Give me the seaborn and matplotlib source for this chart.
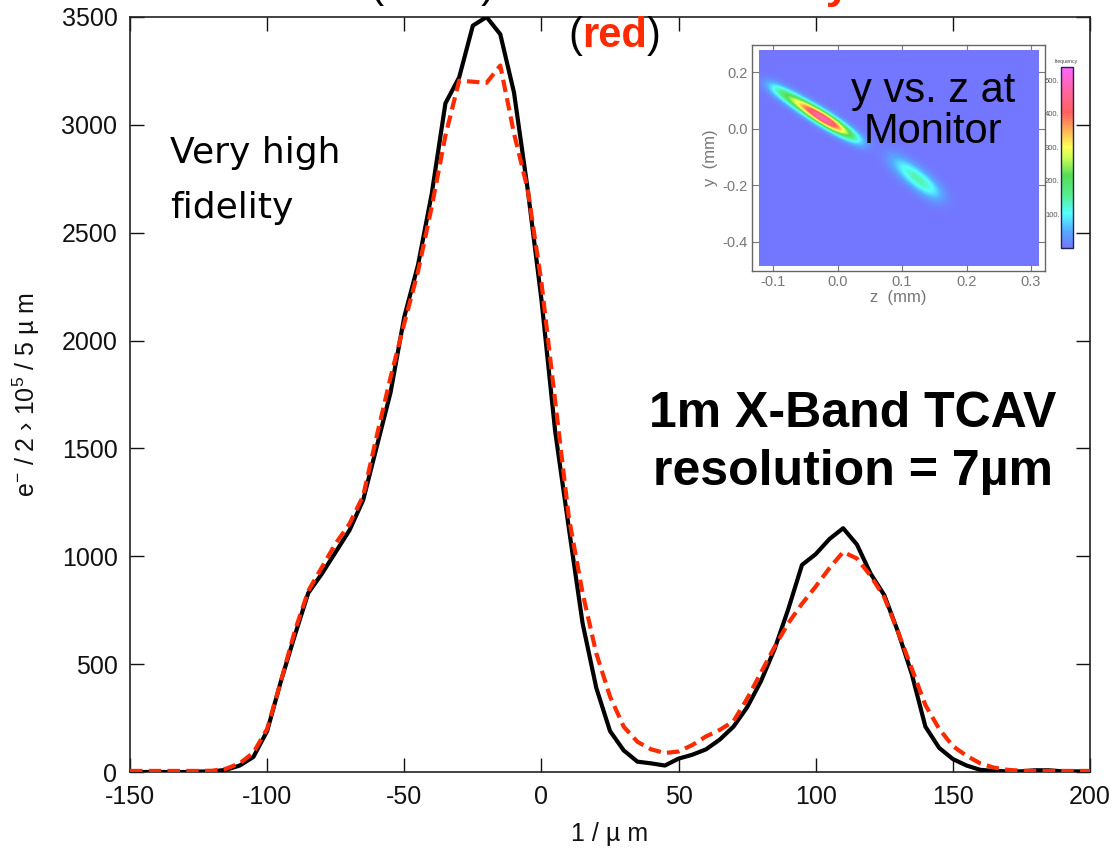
import numpy as np
import pandas as pd
import matplotlib
matplotlib.use("Agg")
import matplotlib.pyplot as plt
import seaborn as sns
from matplotlib.colors import LinearSegmentedColormap

# ---------------- data ----------------
position_um = [-150, -145, -140, -135, -130, -125, -120, -115, -110, -105,
               -100, -95, -90, -85, -80, -75, -70, -65, -60, -55,
               -50, -45, -40, -35, -30, -25, -20, -15, -10, -5,
               0, 5, 10, 15, 20, 25, 30, 35, 40, 45,
               50, 55, 60, 65, 70, 75, 80, 85, 90, 95,
               100, 105, 110, 115, 120, 125, 130, 135, 140, 145,
               150, 155, 160, 165, 170, 175, 180, 185, 190, 195, 200]

simulated = [0, 0, 0, 0, 0, 2, 3, 10, 30, 70,
             190, 420, 630, 830, 920, 1020, 1120, 1260, 1510, 1760,
             2110, 2350, 2680, 3100, 3220, 3460, 3500, 3420, 3150, 2700,
             2190, 1580, 1130, 690, 390, 190, 100, 48, 40, 30,
             62, 80, 105, 150, 210, 300, 420, 570, 755, 960,
             1010, 1080, 1130, 1055, 920, 820, 650, 455, 210, 112,
             60, 30, 10, 5, 3, 3, 8, 8, 3, 3, 2]

reconstructed = [5, 5, 5, 5, 5, 5, 6, 15, 40, 90,
                 200, 420, 650, 840, 950, 1060, 1150, 1280, 1560, 1830,
                 2080, 2320, 2620, 2950, 3205, 3200, 3195, 3275, 2960, 2700,
                 2270, 1720, 1180, 830, 550, 350, 210, 140, 105, 88,
                 95, 125, 165, 195, 235, 340, 460, 580, 690, 780,
                 860, 945, 1020, 990, 910, 810, 650, 480, 310, 200,
                 120, 75, 40, 20, 10, 6, 5, 5, 5, 5, 5]

x_ticks = [-150, -100, -50, 0, 50, 100, 150, 200]
y_ticks = [0, 500, 1000, 1500, 2000, 2500, 3000, 3500]

# inset: ridge samples of the two bunches in y vs z (mm) and their frequency level
bunch1_z = [-0.100, -0.088, -0.076, -0.064, -0.052, -0.040, -0.028, -0.016, -0.004, 0.008, 0.020, 0.032]
bunch1_y = [0.147, 0.130, 0.113, 0.096, 0.079, 0.062, 0.045, 0.028, 0.011, -0.006, -0.023, -0.040]
bunch1_level = [120, 170, 230, 290, 370, 460, 515, 520, 420, 300, 190, 110]
bunch2_z = [0.085, 0.097, 0.109, 0.121, 0.133, 0.145, 0.155]
bunch2_y = [-0.106, -0.128, -0.150, -0.172, -0.194, -0.216, -0.234]
bunch2_level = [45, 90, 135, 160, 155, 115, 55]
inset_x_ticks = [-0.1, 0.0, 0.1, 0.2, 0.3]
inset_x_labels = ["-0.1", "0.0", "0.1", "0.2", "0.3"]
inset_y_ticks = [0.2, 0.0, -0.2, -0.4]
inset_y_labels = ["0.2", "0.0", "-0.2", "-0.4"]
cbar_ticks = [100, 200, 300, 400, 500]
cbar_labels = ["100.", "200.", "300.", "400.", "500."]

# ---------------- style ----------------
sns.set_theme(style="ticks")
plt.rcParams["font.family"] = ["Liberation Sans", "DejaVu Sans"]
plt.rcParams["mathtext.fontset"] = "custom"
plt.rcParams["mathtext.rm"] = "Liberation Sans"
plt.rcParams["mathtext.it"] = "Liberation Sans:italic"
plt.rcParams["axes.unicode_minus"] = False

W, H = 1114, 859
fig = plt.figure(figsize=(W / 100, H / 100), dpi=100)
fig.patch.set_facecolor("white")

def fx(px):
    return px / W

def fy(py):
    return 1 - py / H

# ---------------- main axes ----------------
ax = fig.add_axes([fx(130), fy(772), (1090 - 130) / W, (772 - 17) / H])
df = pd.DataFrame({"pos": position_um, "sim": simulated, "rec": reconstructed})
sns.lineplot(data=df, x="pos", y="sim", ax=ax, color="black", lw=3.0, zorder=3)
sns.lineplot(data=df, x="pos", y="rec", ax=ax, color="#FF2A00", lw=3.0, zorder=4)
ax.lines[-1].set_dashes([3.0, 1.5])

ax.set_xlim(-150, 200)
ax.set_ylim(0, 3500)
ax.set_xticks(x_ticks)
ax.set_yticks(y_ticks)
ax.tick_params(direction="in", length=10, width=1, top=True, right=True,
               labelsize=18, colors="#111111", pad=9)
for s in ax.spines.values():
    s.set_color("#222222")
    s.set_linewidth(1.2)
ax.set_xlabel("1 / \u00b5 m", fontsize=18, color="#111111", labelpad=10)
ax.set_ylabel("e$^{-}$ / 2 \u203a 10$^{5}$ / 5 \u00b5 m", fontsize=18,
              color="#111111", labelpad=14)

# ---------------- texts ----------------
# first title line is cut by the top edge in the reference: only descenders show
fig.text(fx(495), fy(-3), "Simulated (black)", fontsize=30, color="black",
         ha="right", va="baseline")
fig.text(fx(850), fy(-2), "from Monitor y", fontsize=32, color="#FF2A00",
         fontweight="bold", ha="right", va="baseline")
fig.text(fx(568), fy(47), "(", fontsize=30, color="black", ha="left", va="baseline")
fig.text(fx(582), fy(47), "red", fontsize=30, color="#FF2A00", fontweight="bold",
         ha="left", va="baseline")
fig.text(fx(647), fy(47), ")", fontsize=30, color="black", ha="left", va="baseline")

fig.text(fx(170), fy(163), "Very high", fontsize=26, family="DejaVu Sans",
         color="black", ha="left", va="baseline")
fig.text(fx(170), fy(218), "fidelity", fontsize=26, family="DejaVu Sans",
         color="black", ha="left", va="baseline")

fig.text(fx(853), fy(427), "1m X-Band TCAV", fontsize=36, fontweight="bold",
         color="black", ha="center", va="baseline")
fig.text(fx(853), fy(485), "resolution = 7\u00b5m", fontsize=36, fontweight="bold",
         color="black", ha="center", va="baseline")

# ---------------- inset ----------------
cmap = LinearSegmentedColormap.from_list(
    "idl_rainbow",
    [(0.00, "#7377FF"), (0.09, "#55AAFF"), (0.19, "#55FFFF"), (0.30, "#55EE88"),
     (0.40, "#55DD55"), (0.50, "#CCFF55"), (0.56, "#FFFF55"), (0.66, "#FFAA55"),
     (0.75, "#FF5F5F"), (0.86, "#FF6699"), (1.00, "#FF66FF")])

zmin, zmax, ymin, ymax = -0.122, 0.312, -0.486, 0.279
sz, sy = 645.0, 282.5  # pixels per mm on screen
nz, ny = 280, 216
Zg, Yg = np.meshgrid(np.linspace(zmin, zmax, nz), np.linspace(ymax, ymin, ny))
img = np.zeros_like(Zg)
for zs, ys, lv, sp in [(bunch1_z, bunch1_y, bunch1_level, 4.6),
                       (bunch2_z, bunch2_y, bunch2_level, 6.5)]:
    zs = np.asarray(zs); ys = np.asarray(ys); lv = np.asarray(lv, float)
    d = np.array([(zs[-1] - zs[0]) * sz, (ys[-1] - ys[0]) * sy])
    d /= np.linalg.norm(d)
    nvec = np.array([-d[1], d[0]])
    spacing = np.mean(np.hypot(np.diff(zs) * sz, np.diff(ys) * sy))
    sa = spacing
    norm = np.sqrt(2 * np.pi) * sa / spacing
    for zi, yi, li in zip(zs, ys, lv):
        dx = (Zg - zi) * sz
        dy = (Yg - yi) * sy
        a = dx * d[0] + dy * d[1]
        p = dx * nvec[0] + dy * nvec[1]
        img += li * np.exp(-a ** 2 / (2 * sa ** 2) - p ** 2 / (2 * sp ** 2)) / norm

axin = fig.add_axes([fx(752), fy(270.7), (1045 - 752) / W, (270.7 - 45) / H])
im = axin.imshow(img, extent=[zmin, zmax, ymin, ymax], origin="upper", cmap=cmap,
                 vmin=0, vmax=540, aspect="auto", interpolation="bilinear", zorder=1)
axin.set_xlim(-0.1326, 0.3217)
axin.set_ylim(-0.503, 0.297)
axin.set_facecolor("white")
axin.set_xticks(inset_x_ticks)
axin.set_xticklabels(inset_x_labels)
axin.set_yticks(inset_y_ticks)
axin.set_yticklabels(inset_y_labels)
axin.tick_params(direction="in", length=5, width=0.8, top=True, right=True,
                 labelsize=10.5, colors="#777777", pad=3)
for s in axin.spines.values():
    s.set_color("#666666")
    s.set_linewidth(1.0)
axin.set_xlabel("z  (mm)", fontsize=12, color="#777777", labelpad=1)
axin.set_ylabel("y  (mm)", fontsize=12, color="#777777", labelpad=3)

fig.text(fx(933), fy(101.7), "y vs. z at", fontsize=30, color="black",
         ha="center", va="baseline")
fig.text(fx(933), fy(143), "Monitor", fontsize=30, color="black",
         ha="center", va="baseline")

cax = fig.add_axes([fx(1061), fy(248), 12 / W, 181 / H])
cb = fig.colorbar(im, cax=cax)
cb.set_ticks(cbar_ticks)
cb.set_ticklabels(cbar_labels)
cax.yaxis.set_ticks_position("left")
cax.tick_params(length=0, labelsize=5.5, colors="#555555", pad=1)
cb.outline.set_edgecolor("#222255")
cb.outline.set_linewidth(1.0)
cax.set_title("frequency", fontsize=3.8, color="#444444", pad=3)

fig.savefig("out.png", dpi=100, facecolor="white")
